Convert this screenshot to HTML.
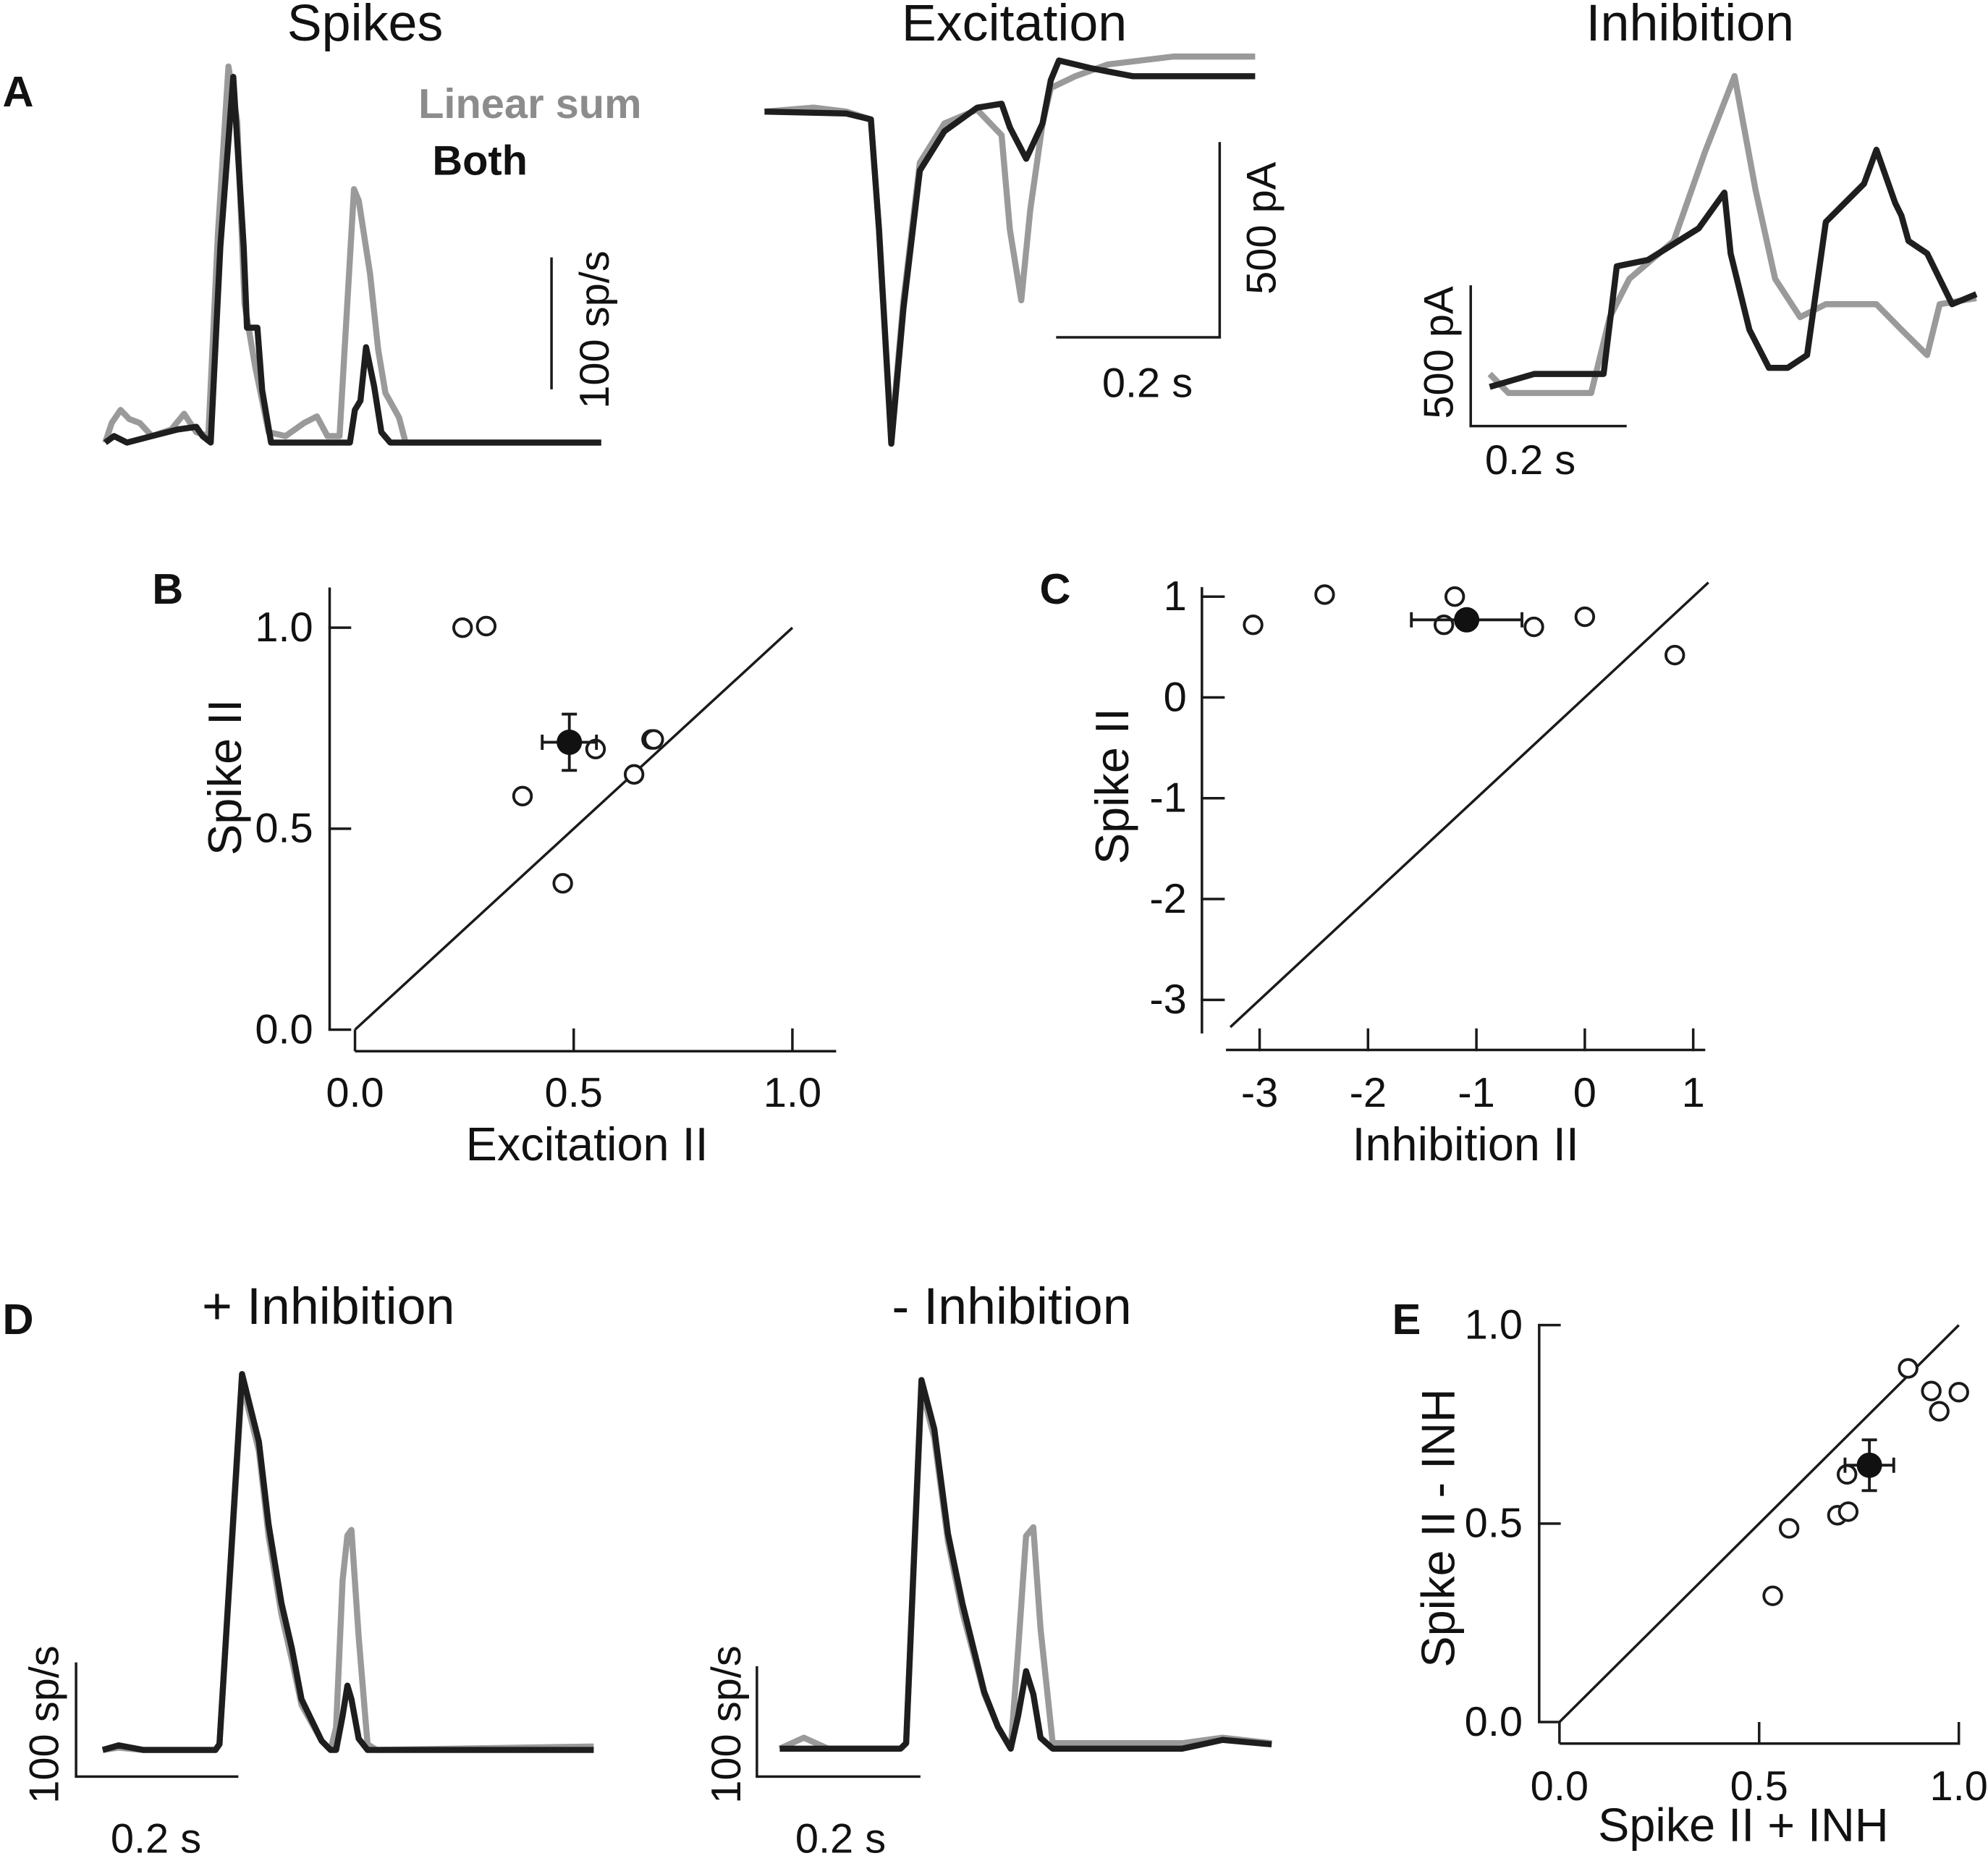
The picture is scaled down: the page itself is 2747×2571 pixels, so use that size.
<!DOCTYPE html>
<html><head><meta charset="utf-8">
<style>
html,body{margin:0;padding:0;background:#fff;}
svg{display:block;}
text{font-family:"Liberation Sans",Arial,sans-serif;fill:#111;}
</style></head>
<body>
<svg id="fig" xmlns="http://www.w3.org/2000/svg" width="2747" height="2571" viewBox="0 0 1568 1467.6" preserveAspectRatio="none">
<rect width="1568" height="1468" fill="#fff"/>
<g id="texts" font-size="37">
<text x="2" y="84" font-weight="bold" font-size="34">A</text>
<text x="120" y="476" font-weight="bold" font-size="34">B</text>
<text x="820" y="476" font-weight="bold" font-size="34">C</text>
<text x="2" y="1052" font-weight="bold" font-size="34">D</text>
<text x="1098" y="1052" font-weight="bold" font-size="34">E</text>
<text x="288" y="32" text-anchor="middle" font-size="41">Spikes</text>
<text x="800" y="32" text-anchor="middle" font-size="41">Excitation</text>
<text x="1333" y="32" text-anchor="middle" font-size="41">Inhibition</text>
<text x="259" y="1044" text-anchor="middle" font-size="41">+ Inhibition</text>
<text x="798" y="1044" text-anchor="middle" font-size="41">- Inhibition</text>
<text x="330" y="93" font-weight="bold" font-size="33" style="fill:#8c8c8c">Linear sum</text>
<text x="341" y="138" font-weight="bold" font-size="33">Both</text>
<text transform="translate(480,260) rotate(-90)" text-anchor="middle" font-size="33">100 sp/s</text>
<text transform="translate(1006,180) rotate(-90)" text-anchor="middle" font-size="33">500 pA</text>
<text x="905" y="313" text-anchor="middle" font-size="33">0.2 s</text>
<text transform="translate(1146,278) rotate(-90)" text-anchor="middle" font-size="33">500 pA</text>
<text x="1207" y="374" text-anchor="middle" font-size="33">0.2 s</text>
<text transform="translate(46,1360) rotate(-90)" text-anchor="middle" font-size="33">100 sp/s</text>
<text x="123" y="1461" text-anchor="middle" font-size="33">0.2 s</text>
<text transform="translate(584,1360) rotate(-90)" text-anchor="middle" font-size="33">100 sp/s</text>
<text x="663" y="1461" text-anchor="middle" font-size="33">0.2 s</text>
<text transform="translate(190,613) rotate(-90)" text-anchor="middle">Spike II</text>
<text x="463" y="915" text-anchor="middle">Excitation II</text>
<text transform="translate(890,620) rotate(-90)" text-anchor="middle">Spike II</text>
<text x="1156" y="915" text-anchor="middle">Inhibition II</text>
<text transform="translate(1147,1205) rotate(-90)" text-anchor="middle">Spike II - INH</text>
<text x="1375" y="1452" text-anchor="middle">Spike II + INH</text>
</g>
<g id="marks"></g>
</svg>
<script>
// ---- Panel A: Spikes (t in s, rate in sp/s)
const spkBothT = [0,0.011,0.027,0.058,0.09,0.113,0.121,0.131,0.143,0.159,0.172,0.176,0.189,0.195,0.206,0.304,0.310,0.317,0.324,0.334,0.343,0.354,0.616];
const spkBothV = [0,5,0,5,10,12,5,0,150,280,150,88,88,40,0,0,25,32,73,43,8,0,0];
const spkLinT = [0,0.008,0.019,0.030,0.043,0.058,0.082,0.098,0.113,0.128,0.140,0.153,0.164,0.173,0.186,0.203,0.224,0.247,0.263,0.276,0.291,0.309,0.315,0.329,0.339,0.348,0.365,0.373,0.616];
const spkLinV = [0,15,25,18,15,5,10,22,8,5,160,288,246,106,59,8,5,15,20,5,5,194,185,129,71,38,19,0,0];
// ---- Panel A: Excitation (pA)
const excBothT = [0,0.1,0.13,0.14,0.155,0.17,0.19,0.22,0.26,0.29,0.3,0.32,0.34,0.35,0.36,0.4,0.45,0.6];
const excBothV = [0,-5,-20,-300,-845,-500,-150,-50,10,20,-40,-120,-30,80,130,110,90,90];
const excLinT = [0,0.06,0.1,0.13,0.14,0.155,0.17,0.19,0.22,0.26,0.29,0.3,0.314,0.325,0.34,0.35,0.38,0.42,0.5,0.6];
const excLinV = [0,10,0,-20,-300,-830,-480,-130,-30,5,-60,-300,-480,-250,-30,60,90,120,140,140];
// ---- Panel A: Inhibition (pA)
const inhBothT = [0,0.057,0.146,0.163,0.203,0.268,0.301,0.309,0.333,0.358,0.382,0.407,0.431,0.480,0.496,0.520,0.528,0.537,0.561,0.593,0.624];
const inhBothV = [-23,23,23,409,432,545,673,455,182,45,45,91,568,705,827,636,591,500,455,273,309];
const inhLinT = [0,0.024,0.130,0.154,0.179,0.236,0.276,0.314,0.341,0.366,0.398,0.431,0.496,0.528,0.561,0.577,0.624];
const inhLinV = [23,-45,-45,227,364,500,818,1091,682,364,227,273,273,182,91,273,295];
// ---- Panel D
const d1T = [0,0.02,0.05,0.14,0.145,0.173,0.194,0.206,0.222,0.235,0.247,0.272,0.283,0.29,0.298,0.304,0.309,0.318,0.329,0.34,0.61];
const d1Both = [0,4,0,0,5,333,273,200,130,90,45,8,0,0,30,57,45,10,0,0,0];
const d1Lin = [0,2,0,0,5,325,265,190,120,80,40,8,0,20,150,190,195,100,5,0,3];
const d2T = [0,0.03,0.06,0.15,0.157,0.176,0.192,0.209,0.227,0.254,0.271,0.287,0.296,0.306,0.315,0.324,0.339,0.5,0.55,0.611];
const d2Both = [0,0,0,0,5,338,293,197,133,52,20,0,30,71,50,10,0,0,8,4];
const d2Lin = [0,10,0,0,5,330,285,190,125,50,20,0,90,195,203,110,5,5,10,5];
// ---- Panel B scatter
const bX = [0.246,0.30,0.383,0.475,0.55,0.638,0.678,0.683];
const bY = [1.0,1.004,0.581,0.364,0.698,0.635,0.722,0.722];
const bMean = [0.49,0.715]; const bErr = [0.062,0.07];
const bTicks = [0,0.5,1.0]; const bTickLabels = ["0.0","0.5","1.0"];
// ---- Panel C scatter
const cX = [-3.06,-2.40,-1.2,-1.30,-0.47,0,0.83];
const cY = [0.72,1.02,1.0,0.72,0.70,0.8,0.42];
const cMean = [-1.09,0.77]; const cErr = [0.51,0.03];
const cXTicks = [-3,-2,-1,0,1]; const cYTicks = [1,0,-1,-2,-3];
const cXTickLabels = ["-3","-2","-1","0","1"]; const cYTickLabels = ["1","0","-1","-2","-3"];
// ---- Panel E scatter
const eX = [0.873,0.931,1.0,0.951,0.72,0.696,0.723,0.575,0.534];
const eY = [0.891,0.834,0.831,0.783,0.624,0.521,0.530,0.488,0.318];
const eMean = [0.776,0.647]; const eErr = [0.061,0.064];
const eTicks = [0,0.5,1.0]; const eTickLabels = ["0.0","0.5","1.0"];

const NS = "http://www.w3.org/2000/svg";
const G = document.getElementById('marks');
function mk(tag, attrs, name, parent){
  const el = document.createElementNS(NS, tag);
  for (const k in attrs) el.setAttribute(k, attrs[k]);
  
  
  (parent||G).appendChild(el);
  return el;
}
function line(x1,y1,x2,y2,name,w){ return mk('line',{x1,y1,x2,y2,stroke:'#1a1a1a','stroke-width':w||2},name); }
function trace(ts, vs, sx, sy, color, name){
  let d = '';
  for (let i=0;i<ts.length;i++) d += (i?'L':'M') + sx(ts[i]).toFixed(1) + ' ' + sy(vs[i]).toFixed(1);
  return mk('path',{d, fill:'none', stroke:color, 'stroke-width':4.8, 'stroke-linejoin':'round'}, name);
}
function text(x,y,s,anchor,name){
  const t = mk('text',{x,y,'text-anchor':anchor,'font-size':33,'dominant-baseline':'middle'},name);
  t.textContent = s; return t;
}
const GRAY='#9a9a9a', BLACK='#1e1e1e';

// Panel A spikes
{
  const sx = t => 83 + t*635, sy = v => 349 - v*1.03;
  trace(spkLinT, spkLinV, sx, sy, GRAY, 'spikes-linear-sum-trace');
  trace(spkBothT, spkBothV, sx, sy, BLACK, 'spikes-both-trace');
  line(435, 203, 435, 307, 'spikes-scale-bar');
}
// Panel A excitation
{
  const sx = t => 603 + t*645, sy = v => 88 - v*0.31;
  trace(excLinT, excLinV, sx, sy, GRAY, 'excitation-linear-sum-trace');
  trace(excBothT, excBothV, sx, sy, BLACK, 'excitation-both-trace');
  line(962, 112, 962, 266, 'excitation-scale-bar-vertical');
  line(833, 266, 963, 266, 'excitation-scale-bar-horizontal');
}
// Panel A inhibition
{
  const sx = t => 1175 + t*615, sy = v => 300 - v*0.22;
  trace(inhLinT, inhLinV, sx, sy, GRAY, 'inhibition-linear-sum-trace');
  trace(inhBothT, inhBothV, sx, sy, BLACK, 'inhibition-both-trace');
  line(1160, 225, 1160, 336, 'inhibition-scale-bar-vertical');
  line(1159, 336, 1283, 336, 'inhibition-scale-bar-horizontal');
}
// Panel D1
{
  const sx = t => 81 + t*635, sy = v => 1380 - v*0.89;
  trace(d1T, d1Lin, sx, sy, GRAY, 'd1-linear-sum-trace');
  trace(d1T, d1Both, sx, sy, BLACK, 'd1-both-trace');
  line(60, 1311, 60, 1401, 'd1-scale-bar-vertical');
  line(59, 1401, 188, 1401, 'd1-scale-bar-horizontal');
}
// Panel D2
{
  const sx = t => 615 + t*635, sy = v => 1379 - v*0.86;
  trace(d2T, d2Lin, sx, sy, GRAY, 'd2-linear-sum-trace');
  trace(d2T, d2Both, sx, sy, BLACK, 'd2-both-trace');
  line(597, 1314, 597, 1401, 'd2-scale-bar-vertical');
  line(596, 1401, 726, 1401, 'd2-scale-bar-horizontal');
}
function scatter(xs, ys, mean, err, sx, sy, prefix){
  for (let i=0;i<xs.length;i++){
    mk('circle',{cx:sx(xs[i]),cy:sy(ys[i]),r:7,fill:'#fff',stroke:'#1a1a1a','stroke-width':2.2}, prefix+'-point');
  }
  const mx=sx(mean[0]), my=sy(mean[1]);
  line(sx(mean[0]-err[0]),my,sx(mean[0]+err[0]),my,prefix+'-mean-xerr',2.2);
  line(sx(mean[0]-err[0]),my-6,sx(mean[0]-err[0]),my+6,prefix+'-mean-xerr-cap',2.2);
  line(sx(mean[0]+err[0]),my-6,sx(mean[0]+err[0]),my+6,prefix+'-mean-xerr-cap',2.2);
  line(mx,sy(mean[1]-err[1]),mx,sy(mean[1]+err[1]),prefix+'-mean-yerr',2.2);
  line(mx-6,sy(mean[1]-err[1]),mx+6,sy(mean[1]-err[1]),prefix+'-mean-yerr-cap',2.2);
  line(mx-6,sy(mean[1]+err[1]),mx+6,sy(mean[1]+err[1]),prefix+'-mean-yerr-cap',2.2);
  mk('circle',{cx:mx,cy:my,r:10,fill:'#111'}, prefix+'-mean-point');
}
// Panel B
{
  const sx = v => 280 + v*345, sy = v => 812 - v*317;
  line(260, sy(1.1), 260, sy(0), 'b-y-axis');
  line(sx(0), 829, sx(1.1), 829, 'b-x-axis');
  line(sx(0), sy(0), sx(0), 829, 'b-x-axis-corner');
  bTicks.forEach((v,i)=>{
    line(259, sy(v), 277, sy(v), 'b-y-tick');
    text(247, sy(v)+2, bTickLabels[i], 'end', 'b-y-tick-label');
    if (v>0) line(sx(v), 829, sx(v), 811, 'b-x-tick');
    text(sx(v), 864, bTickLabels[i], 'middle', 'b-x-tick-label');
  });
  line(sx(0), sy(0), sx(1), sy(1), 'b-unity-line');
  scatter(bX, bY, bMean, bErr, sx, sy, 'b');
}
// Panel C
{
  const sx = v => 1250 + v*85.5, sy = v => 550 - v*79.5;
  line(948, 463, 948, 815, 'c-y-axis');
  line(967, 828, 1345, 828, 'c-x-axis');
  cYTicks.forEach((v,i)=>{
    line(947, sy(v), 966, sy(v), 'c-y-tick');
    text(936, sy(v)+2, cYTickLabels[i], 'end', 'c-y-tick-label');
  });
  cXTicks.forEach((v,i)=>{
    line(sx(v), 829, sx(v), 811, 'c-x-tick');
    text(sx(v), 864, cXTickLabels[i], 'middle', 'c-x-tick-label');
  });
  line(sx(-3.27), sy(-3.27), sx(1.14), sy(1.14), 'c-unity-line');
  scatter(cX, cY, cMean, cErr, sx, sy, 'c');
}
// Panel E
{
  const sx = v => 1230 + v*315, sy = v => 1358 - v*313;
  line(1214, sy(1), 1214, sy(0), 'e-y-axis');
  line(sx(0), 1375, sx(1), 1375, 'e-x-axis');
  line(sx(0), sy(0), sx(0), 1375, 'e-x-axis-corner');
  eTicks.forEach((v,i)=>{
    line(1213, sy(v), 1231, sy(v), 'e-y-tick');
    text(1201, sy(v)+2, eTickLabels[i], 'end', 'e-y-tick-label');
    if (v>0) line(sx(v), 1376, sx(v), 1358, 'e-x-tick');
    text(sx(v), 1411, eTickLabels[i], 'middle', 'e-x-tick-label');
  });
  line(sx(0), sy(0), sx(1), sy(1), 'e-unity-line');
  scatter(eX, eY, eMean, eErr, sx, sy, 'e');
}
</script>
</body></html>
